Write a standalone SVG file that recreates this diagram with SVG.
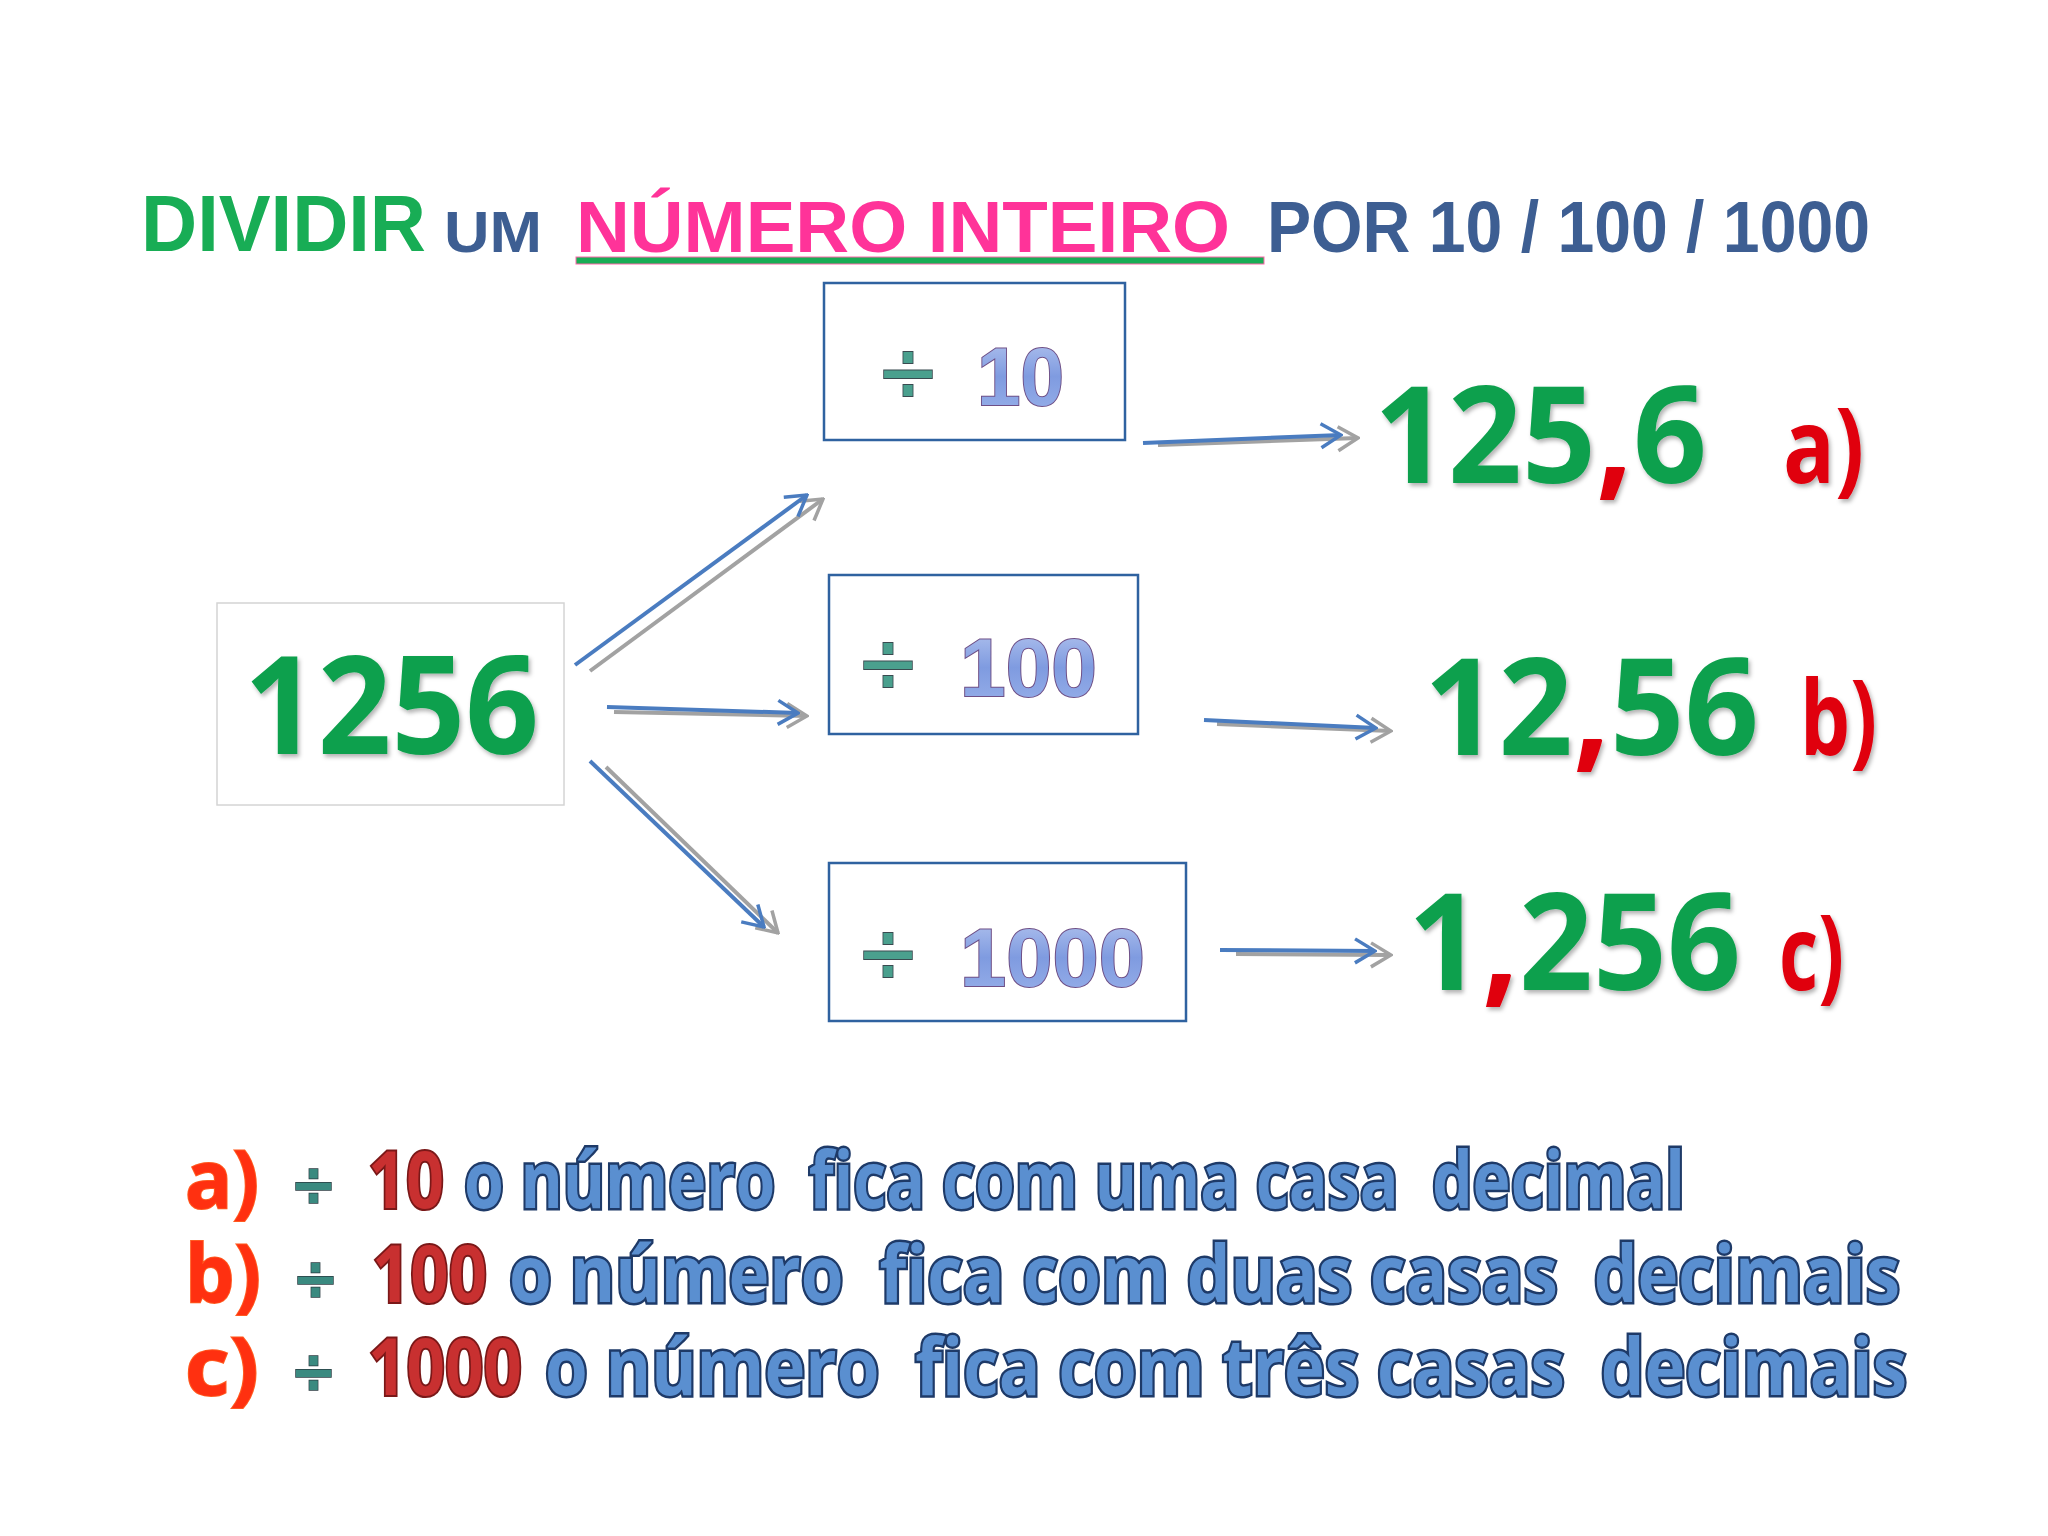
<svg xmlns="http://www.w3.org/2000/svg" width="2048" height="1536" viewBox="0 0 2048 1536">
<defs>
<style>
.ttl{font-family:"Liberation Sans",Arial,sans-serif;font-weight:bold}
.big{font-family:"Open Sans","DejaVu Sans",sans-serif;font-weight:bold;fill:#10a04e}
.red{fill:#e00010}
.box{fill:#ffffff;stroke:#2f62a0;stroke-width:2.5}
.dig{font-family:"Liberation Sans",Arial,sans-serif;font-weight:bold;fill:url(#gDig);stroke:#6e4f86;stroke-width:2;paint-order:stroke}
.div{font-family:"DejaVu Sans","Liberation Sans",sans-serif;font-weight:normal;fill:#4aa08e;stroke:#3a4a50;stroke-width:2;paint-order:stroke}
.bl{stroke:#4a7cc0;stroke-width:4;fill:none}
.gr{stroke:#a2a2a2;stroke-width:4;fill:none}
.bot{font-family:"Open Sans","DejaVu Sans",sans-serif;font-weight:bold;font-size:78px;fill:#5a8fd0;stroke:#1e3a68;stroke-width:5;paint-order:stroke;white-space:pre}
.botr{font-family:"Open Sans","DejaVu Sans",sans-serif;font-weight:bold;font-size:78px;fill:#c83030;stroke:#7a1818;stroke-width:4;paint-order:stroke}
.bota{font-family:"Open Sans","DejaVu Sans",sans-serif;font-weight:bold;font-size:80px;fill:#ff3010;stroke:#ff5a20;stroke-width:2;paint-order:stroke}
.botd{font-family:"DejaVu Sans",sans-serif;font-weight:bold;font-size:62px;fill:#3a8a80;stroke:#2a3a40;stroke-width:1.5;paint-order:stroke}
</style>
<linearGradient id="gDig" x1="0" y1="0" x2="0" y2="1">
<stop offset="0" stop-color="#b8c8f0"/><stop offset="0.5" stop-color="#7f9be0"/><stop offset="1" stop-color="#9ab2ea"/>
</linearGradient>
<filter id="sh" x="-10%" y="-10%" width="120%" height="130%">
<feDropShadow dx="2" dy="3" stdDeviation="2" flood-color="#000" flood-opacity="0.3"/>
</filter>
<marker id="mb" viewBox="0 0 24 28" refX="22" refY="14" markerWidth="24" markerHeight="28" markerUnits="userSpaceOnUse" orient="auto">
<path d="M2,2 L22,14 L2,26" fill="none" stroke="#4a7cc0" stroke-width="3.5"/>
</marker>
<marker id="mg" viewBox="0 0 24 28" refX="22" refY="14" markerWidth="24" markerHeight="28" markerUnits="userSpaceOnUse" orient="auto">
<path d="M2,2 L22,14 L2,26" fill="none" stroke="#a2a2a2" stroke-width="3.5"/>
</marker>
</defs>
<rect width="2048" height="1536" fill="#ffffff"/>

<g id="title">
<text class="ttl" x="141" y="251" font-size="80" fill="#18ad55" textLength="285" lengthAdjust="spacingAndGlyphs">DIVIDIR</text>
<text class="ttl" x="444" y="252" font-size="58" fill="#3d5e92" textLength="98" lengthAdjust="spacingAndGlyphs">UM</text>
<text class="ttl" x="576" y="252" font-size="72" fill="#ff3399" textLength="654" lengthAdjust="spacingAndGlyphs">NÚMERO INTEIRO</text>
<rect x="576" y="257" width="688" height="7" fill="#18ad55" stroke="#ff66aa" stroke-width="1"/>
<text class="ttl" x="1267" y="252" font-size="72" fill="#3d5e92" textLength="603" lengthAdjust="spacingAndGlyphs">POR 10 / 100 / 1000</text>
</g>

<g id="connectors">
<line class="gr" x1="590" y1="671" x2="823" y2="499" marker-end="url(#mg)"/>
<line class="bl" x1="575" y1="665" x2="807" y2="495" marker-end="url(#mb)"/>
<line class="gr" x1="614" y1="712" x2="807" y2="716" marker-end="url(#mg)"/>
<line class="bl" x1="607" y1="707" x2="798" y2="713" marker-end="url(#mb)"/>
<line class="gr" x1="606" y1="767" x2="778" y2="933" marker-end="url(#mg)"/>
<line class="bl" x1="590" y1="761" x2="764" y2="927" marker-end="url(#mb)"/>
<line class="gr" x1="1158" y1="445" x2="1358" y2="438" marker-end="url(#mg)"/>
<line class="bl" x1="1143" y1="443" x2="1341" y2="435" marker-end="url(#mb)"/>
<line class="gr" x1="1217" y1="724" x2="1391" y2="731" marker-end="url(#mg)"/>
<line class="bl" x1="1204" y1="720" x2="1376" y2="728" marker-end="url(#mb)"/>
<line class="gr" x1="1236" y1="954" x2="1391" y2="955" marker-end="url(#mg)"/>
<line class="bl" x1="1220" y1="950" x2="1375" y2="951" marker-end="url(#mb)"/>
</g>

<g id="n1256">
<rect x="217" y="603" width="347" height="202" fill="#ffffff" stroke="#d4d4d4" stroke-width="1.5"/>
<text class="big" x="244" y="754" font-size="136" textLength="295" lengthAdjust="spacingAndGlyphs" filter="url(#sh)">1256</text>
</g>

<g id="div10">
<rect class="box" x="824" y="283" width="301" height="157"/>
<text class="div" x="876" y="403" font-size="90" textLength="64" lengthAdjust="spacingAndGlyphs">÷</text>
<text class="dig" x="977" y="405" font-size="82" textLength="87" lengthAdjust="spacingAndGlyphs">10</text>
</g>

<g id="div100">
<rect class="box" x="829" y="575" width="309" height="159"/>
<text class="div" x="856" y="694" font-size="90" textLength="64" lengthAdjust="spacingAndGlyphs">÷</text>
<text class="dig" x="960" y="696" font-size="82" textLength="137" lengthAdjust="spacingAndGlyphs">100</text>
</g>

<g id="div1000">
<rect class="box" x="829" y="863" width="357" height="158"/>
<text class="div" x="856" y="984" font-size="90" textLength="64" lengthAdjust="spacingAndGlyphs">÷</text>
<text class="dig" x="960" y="986" font-size="82" textLength="185" lengthAdjust="spacingAndGlyphs">1000</text>
</g>

<g id="resA">
<text class="big" x="1374" y="483" font-size="134" textLength="333" lengthAdjust="spacingAndGlyphs" filter="url(#sh)">125<tspan class="red">,</tspan>6</text>
<text class="big red" x="1783" y="483" font-size="104" textLength="81" lengthAdjust="spacingAndGlyphs" filter="url(#sh)">a)</text>
</g>

<g id="resB">
<text class="big" x="1424" y="755" font-size="134" textLength="335" lengthAdjust="spacingAndGlyphs" filter="url(#sh)">12<tspan class="red">,</tspan>56</text>
<text class="big red" x="1800" y="755" font-size="104" textLength="77" lengthAdjust="spacingAndGlyphs" filter="url(#sh)">b)</text>
</g>

<g id="resC">
<text class="big" x="1408" y="990" font-size="134" textLength="333" lengthAdjust="spacingAndGlyphs" filter="url(#sh)">1<tspan class="red">,</tspan>256</text>
<text class="big red" x="1779" y="990" font-size="104" textLength="65" lengthAdjust="spacingAndGlyphs" filter="url(#sh)">c)</text>
</g>

<g id="legend">
<text class="bota" x="185" y="1208" textLength="74" lengthAdjust="spacingAndGlyphs">a)</text>
<text class="botd" x="290" y="1206" textLength="47" lengthAdjust="spacingAndGlyphs">÷</text>
<text class="botr" x="368" y="1208" textLength="76" lengthAdjust="spacingAndGlyphs">10</text>
<text class="bot" x="464" y="1208" textLength="1221" lengthAdjust="spacingAndGlyphs">o número  fica com uma casa  decimal</text>

<text class="bota" x="185" y="1302" textLength="76" lengthAdjust="spacingAndGlyphs">b)</text>
<text class="botd" x="292" y="1300" textLength="47" lengthAdjust="spacingAndGlyphs">÷</text>
<text class="botr" x="372" y="1302" textLength="115" lengthAdjust="spacingAndGlyphs">100</text>
<text class="bot" x="509" y="1302" textLength="1391" lengthAdjust="spacingAndGlyphs">o número  fica com duas casas  decimais</text>

<text class="bota" x="185" y="1395" textLength="74" lengthAdjust="spacingAndGlyphs">c)</text>
<text class="botd" x="290" y="1393" textLength="47" lengthAdjust="spacingAndGlyphs">÷</text>
<text class="botr" x="368" y="1395" textLength="154" lengthAdjust="spacingAndGlyphs">1000</text>
<text class="bot" x="545" y="1395" textLength="1362" lengthAdjust="spacingAndGlyphs">o número  fica com três casas  decimais</text>
</g>
</svg>
